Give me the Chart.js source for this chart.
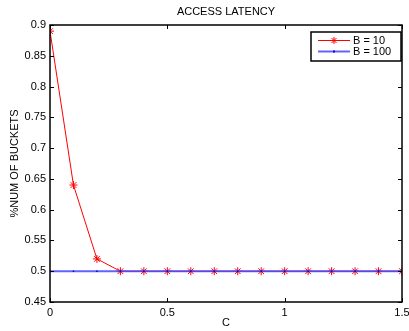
<!DOCTYPE html>
<html><head><meta charset="utf-8">
<script src="https://cdn.jsdelivr.net/npm/chart.js@4"></script>
<style>html,body{margin:0;padding:0;background:#fff}#w{width:409px;height:331px}</style>
</head><body><div id="w"><canvas id="c" width="409" height="331"></canvas></div>
<script>
const xValues = [0,0.1,0.2,0.3,0.4,0.5,0.6,0.7,0.8,0.9,1.0,1.1,1.2,1.3,1.4,1.5];
const seriesB10 = [0.89,0.64,0.52,0.5,0.5,0.5,0.5,0.5,0.5,0.5,0.5,0.5,0.5,0.5,0.5,0.5];
const seriesB100 = [0.5,0.5,0.5,0.5,0.5,0.5,0.5,0.5,0.5,0.5,0.5,0.5,0.5,0.5,0.5,0.5];
const xTicks = [0,0.5,1,1.5];
const yTicks = [0.45,0.5,0.55,0.6,0.65,0.7,0.75,0.8,0.85,0.9];
const FONT = 'Liberation Sans, Arial, sans-serif';

const pts = (ys) => xValues.map((x,i)=>({x, y: ys[i]}));

const boxPlugin = {
  id:'box',
  afterDraw(chart){
    const {ctx, chartArea:a, scales} = chart;
    ctx.save();
    ctx.strokeStyle='#000'; ctx.lineWidth=1;
    ctx.beginPath();
    xTicks.forEach(v=>{const px=Math.round(scales.x.getPixelForValue(v))+0.5;
      ctx.moveTo(px,a.bottom); ctx.lineTo(px,a.bottom-4);
      ctx.moveTo(px,a.top); ctx.lineTo(px,a.top+4);});
    yTicks.forEach(v=>{const py=Math.round(scales.y.getPixelForValue(v))+0.5;
      ctx.moveTo(a.left,py); ctx.lineTo(a.left+4,py);
      ctx.moveTo(a.right,py); ctx.lineTo(a.right-4,py);});
    ctx.stroke();
    ctx.lineWidth=1.5;
    ctx.strokeRect(a.left, a.top, a.right-a.left, a.bottom-a.top);
    // title
    ctx.fillStyle='#000'; ctx.font='11px '+FONT; ctx.textAlign='center'; ctx.textBaseline='middle';
    ctx.fillText('ACCESS LATENCY',(a.left+a.right)/2,12);
    // legend
    const lx=311, ly=32, lw=90, lh=29;
    ctx.fillStyle='#fff'; ctx.fillRect(lx,ly,lw,lh);
    ctx.lineWidth=1.5; ctx.strokeStyle='#000'; ctx.strokeRect(lx,ly,lw,lh);
    const ds = chart.data.datasets;
    [0,1].forEach(i=>{
      const d=ds[i]; const y=ly+8+i*11+0.5;
      ctx.strokeStyle=d.borderColor; ctx.lineWidth=d.borderWidth;
      ctx.beginPath(); ctx.moveTo(318,y); ctx.lineTo(350,y); ctx.stroke();
      if(i===0){
        ctx.lineWidth=1; ctx.beginPath();
        const c=334,r=3.5;
        ctx.moveTo(c-r,y);ctx.lineTo(c+r,y);ctx.moveTo(c,y-r);ctx.lineTo(c,y+r);
        ctx.moveTo(c-2.5,y-2.5);ctx.lineTo(c+2.5,y+2.5);ctx.moveTo(c-2.5,y+2.5);ctx.lineTo(c+2.5,y-2.5);
        ctx.stroke();
      } else {
        ctx.fillStyle='#0000ff'; ctx.fillRect(333,y-1,2,2);
      }
      ctx.fillStyle='#000'; ctx.textAlign='left'; ctx.font='11px '+FONT;
      ctx.fillText(d.label,353,y+0.5);
    });
    ctx.restore();
  }
};

new Chart(document.getElementById('c'),{
  type:'scatter',
  data:{datasets:[
    {label:'B = 10', data:pts(seriesB10), showLine:true, borderColor:'#ff0000', backgroundColor:'rgba(255,0,0,0.25)',
     borderWidth:1, pointStyle:'star', pointRadius:4, pointBorderWidth:1, pointBorderColor:'#ff0000', order:1},
    {label:'B = 100', data:pts(seriesB100), showLine:true, borderColor:'rgba(70,70,255,0.85)', backgroundColor:'#0000ff',
     borderWidth:2, pointStyle:'rect', pointRadius:1, pointBorderWidth:0, pointBackgroundColor:'#0000cc', order:0}
  ]},
  options:{
    responsive:false, animation:false, devicePixelRatio:1,
    layout:{padding:{top:25,right:7,left:0,bottom:0}},
    plugins:{legend:{display:false},tooltip:{enabled:false},title:{display:false}},
    scales:{
      x:{type:'linear',min:0,max:1.5,
        afterBuildTicks:(s)=>{s.ticks=xTicks.map(v=>({value:v}));},
        afterFit:(s)=>{s.height=29;s.paddingLeft=0;s.paddingRight=0;},
        grid:{display:false,drawTicks:false}, border:{display:false},
        ticks:{color:'#000',font:{family:FONT,size:11},padding:4,maxRotation:0,callback:(v)=>String(v)},
        title:{display:true,text:'C',color:'#000',font:{family:FONT,size:11},padding:{top:0,bottom:1}}},
      y:{type:'linear',min:0.45,max:0.9,
        afterBuildTicks:(s)=>{s.ticks=yTicks.map(v=>({value:v}));},
        afterFit:(s)=>{s.width=50;s.paddingTop=0;s.paddingBottom=0;},
        grid:{display:false,drawTicks:false}, border:{display:false},
        ticks:{color:'#000',font:{family:FONT,size:11},padding:4,callback:(v)=>String(Math.round(v*100)/100)},
        title:{display:true,text:'%NUM OF BUCKETS',color:'#000',font:{family:FONT,size:11},padding:{top:8,bottom:0}}}
    }
  },
  plugins:[boxPlugin]
});
</script></body></html>
